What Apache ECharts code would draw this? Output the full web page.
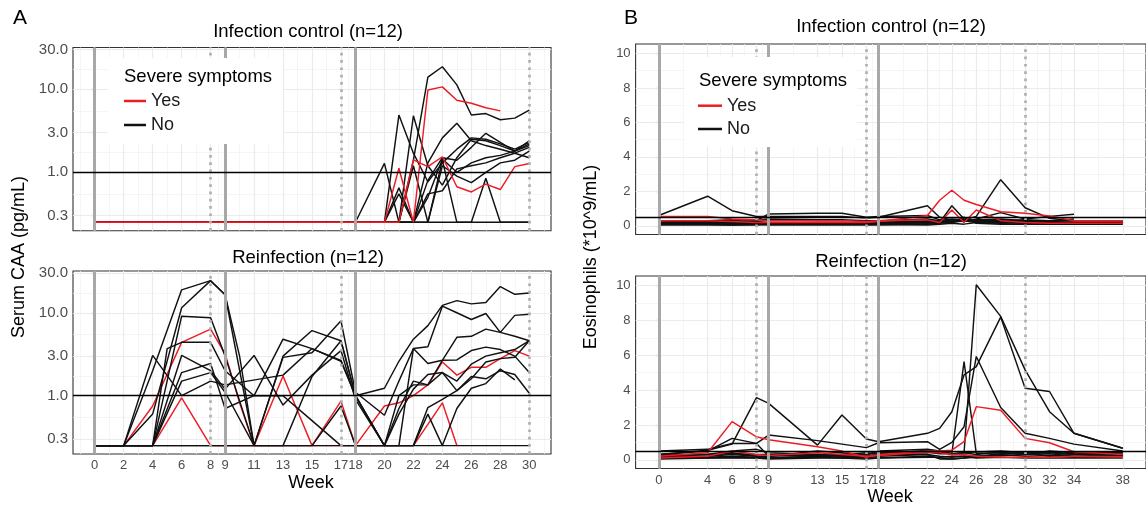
<!DOCTYPE html>
<html><head><meta charset="utf-8">
<script src="https://cdn.jsdelivr.net/npm/echarts@6/dist/echarts.min.js"></script>
<style>html,body{margin:0;padding:0;background:#fff}#c{width:1146px;height:512px}</style>
</head><body><div id="c"></div>
<script>
// ---------------- DATA ----------------
const weeksA = [0,2,4,5,6,8,9,10,11,13,15,17,18,20,21,22,23,24,25,26,27,28,29,30];
const weeksB = [0,4,6,8,9,13,15,17,18,22,23,24,25,26,28,30,32,34,38];
const ticksXA = [0,2,4,6,8,9,11,13,15,17,18,20,22,24,26,28,30];
const ticksXB = [0,4,6,8,9,13,15,17,18,22,24,26,28,30,32,34,38];
const ticksYA = [0.3,1,3,10,30];
const ticksYB = [0,2,4,6,8,10];
const solidWeeks = [0,9,18];
const dottedWeeks = [8,17,30];
const refCAA = 1.0;
const refEos = 0.5;

// Panel A, Infection control: serum CAA (pg/mL)
const caaCtrlNo = [
 [0.25,0.25,0.25,null,0.25,0.25,0.25,null,0.25,0.25,0.25,0.25,0.25, 0.25,0.25,1.4,14,18.7,11.3,4.9,5.1,4.3,4.5,5.6],
 [0.25,0.25,0.25,null,0.25,0.25,0.25,null,0.25,0.25,0.25,0.25,0.25, 1.28,0.25,0.25,0.25,0.25,0.25,0.25,0.85,0.25,0.25,0.25],
 [0.25,0.25,0.25,null,0.25,0.25,0.25,null,0.25,0.25,0.25,0.25,0.25, 0.25,4.9,1.7,0.77,1.3,1.9,2.6,2.5,2.2,1.9,2.3],
 [0.25,0.25,0.25,null,0.25,0.25,0.25,null,0.25,0.25,0.25,0.25,0.25, 0.25,0.25,4.8,1.2,0.7,1.5,2.5,2.4,2.1,1.8,2.1],
 [0.25,0.25,0.25,null,0.25,0.25,0.25,null,0.25,0.25,0.25,0.25,0.25, 0.25,0.25,0.25,1.3,2.6,3.9,2.4,2.1,1.9,1.7,1.5],
 [0.25,0.25,0.25,null,0.25,0.25,0.25,null,0.25,0.25,0.25,0.25,0.25, 0.25,0.55,0.25,0.8,1.5,1.4,2.0,2.95,2.3,1.8,2.4],
 [0.25,0.25,0.25,null,0.25,0.25,0.25,null,0.25,0.25,0.25,0.25,0.25, 0.25,0.25,0.25,0.5,1.45,1.0,1.3,1.5,1.6,1.8,2.2],
 [0.25,0.25,0.25,null,0.25,0.25,0.25,null,0.25,0.25,0.25,0.25,0.25, 0.25,0.65,0.25,0.55,0.6,1.1,1.2,1.3,1.5,1.7,2.0],
 [0.25,0.25,0.25,null,0.25,0.25,0.25,null,0.25,0.25,0.25,0.25,0.25, 0.25,0.25,1.2,0.25,1.4,0.25,0.25,0.25,0.25,0.25,0.25],
 [0.25,0.25,0.25,null,0.25,0.25,0.25,null,0.25,0.25,0.25,0.25,0.25, 0.25,0.25,0.25,0.25,1.2,0.9,0.75,1.0,1.3,1.4,1.8]
];
const caaCtrlYes = [
 [0.25,0.25,0.25,null,0.25,0.25,0.25,null,0.25,0.25,0.25,0.25,0.25, 0.25,1.12,0.25,9.8,10.7,7.4,6.8,6.0,5.5,null,null],
 [0.25,0.25,0.25,null,0.25,0.25,0.25,null,0.25,0.25,0.25,0.25,0.25, 0.25,0.25,1.41,1.17,1.54,0.67,0.58,0.72,0.62,1.17,1.28]
];
// Panel A, Reinfection
const caaReinfNo = [
 [0.25,0.25,2.0,null,18.9,24.4,16.5,null,0.25,0.25,1.7,4.6,1.0, 1.23,2.6,4.8,7.0,12.3,14.0,12.8,13.3,20.7,16.7,17.3],
 [0.25,0.25,0.6,null,11.5,24.4,16.5,3.0,0.25,2.9,3.3,8.0,1.1, 0.58,1.5,3.7,3.9,12.0,10.0,8.3,9.8,5.8,9.3,9.6],
 [0.25,0.25,0.25,null,9.1,8.7,3.0,null,0.25,3.0,6.1,4.6,1.0, 0.25,0.25,3.7,2.44,2.67,5.06,5.2,6.35,5.8,5.2,4.6],
 [0.25,0.25,3.06,null,1.0,1.5,1.35,null,null,1.77,3.7,2.6,1.0, 0.25,1.0,1.35,1.35,1.9,1.15,1.7,1.6,2.0,1.8,1.07],
 [0.25,0.25,0.25,3.7,4.4,4.4,2.0,null,1.0,4.8,3.7,2.67,1.0, 0.25,0.7,1.5,1.35,2.67,2.7,3.5,3.85,3.6,3.0,1.9],
 [0.25,0.25,0.25,null,3.06,2.0,1.2,null,3.06,0.77,1.77,3.5,0.9, 0.25,0.25,0.25,0.72,0.9,1.15,1.6,2.55,2.8,2.9,4.6],
 [0.25,0.25,0.25,null,1.9,2.44,0.7,null,1.0,1.0,0.5,0.25,0.25, 0.25,0.25,0.25,0.6,0.25,0.7,1.23,1.4,2.1,1.55,null],
 [0.25,0.25,0.25,null,0.25,0.25,0.25,null,0.25,0.25,0.25,0.75,0.25, 0.25,0.6,1.2,1.8,1.9,1.5,2.4,3.0,3.3,3.6,4.6],
 [0.25,0.25,0.25,null,0.25,0.25,0.25,null,0.25,0.25,0.25,0.25,0.25, 0.25,0.25,0.25,0.25,0.25,0.25,0.25,0.25,0.25,0.25,0.25],
 [0.25,0.25,0.25,null,1.5,1.9,1.1,null,0.25,null,null,null,null, null,null,null,null,null,null,null,null,null,null,null]
];
const caaReinfYes = [
 [0.25,0.25,0.75,null,4.4,6.35,3.2,0.82,0.25,1.73,0.25,0.86,0.25, 0.75,0.82,1.0,1.35,2.55,1.77,2.2,2.2,2.8,3.5,3.0],
 [0.25,0.25,0.25,null,0.94,0.25,null,null,null,null,null,null,null, null,null,0.25,0.45,0.82,0.25,null,null,null,null,null]
];
// Panel B, Infection control: eosinophils (*10^9/mL)
const eosCtrlNo = [
 [0.6,1.72,0.88,0.54,0.55,0.55,0.55,0.45,0.5,1.17,0.5,0.35,0.3,0.3,0.25,0.2,0.2,0.2,null],
 [0.3,0.2,0.2,0.3,0.69,0.73,0.73,0.5,0.54,0.6,0.35,0.3,0.3,0.35,0.4,0.3,0.3,0.4,null],
 [0.2,0.2,0.15,0.15,0.15,0.15,0.15,0.15,0.2,0.25,0.2,0.3,0.35,0.55,2.68,1.05,0.44,0.3,0.3],
 [0.1,0.15,0.1,0.1,0.1,0.1,0.1,0.1,0.15,0.2,0.2,1.17,0.4,0.3,0.3,0.25,0.2,0.2,null],
 [0.15,0.1,0.1,0.1,0.1,0.1,0.1,0.1,0.1,0.2,0.3,0.3,0.25,0.4,0.77,0.4,0.55,0.67,null],
 [0.05,0.05,0.05,0.1,0.05,0.05,0.05,0.05,0.05,0.1,0.15,0.2,0.5,0.15,0.1,0.1,0.1,0.1,0.1],
 [0.2,0.25,0.3,0.25,0.2,0.2,0.2,0.2,0.2,0.3,0.25,0.2,0.3,0.25,0.3,0.35,0.3,0.3,0.3],
 [0.1,0.1,0.05,0.05,0.1,0.1,0.1,0.1,0.1,0.05,0.1,0.15,0.1,0.2,0.15,0.2,0.15,0.1,0.15],
 [0.3,0.3,0.35,0.35,0.4,0.35,0.35,0.3,0.3,0.4,0.3,0.4,0.35,0.3,0.2,0.3,0.25,0.2,0.2],
 [0.15,0.2,0.2,0.2,0.15,0.2,0.2,0.15,0.2,0.15,0.2,0.25,0.3,0.2,0.2,0.15,0.2,0.15,null]
];
const eosCtrlYes = [
 [0.3,0.3,0.25,0.2,0.2,0.2,0.2,0.2,0.25,0.6,1.49,2.07,1.49,1.24,0.82,0.73,0.57,0.3,0.3],
 [0.55,0.55,0.4,0.35,0.3,0.3,0.3,0.25,0.3,0.35,0.2,0.92,0.2,0.92,0.3,0.2,0.15,0.15,0.15]
];
// Panel B, Reinfection
const eosReinfNo = [
 [0.3,0.55,0.9,3.57,3.24,0.84,2.57,1.19,1.04,1.52,1.8,2.76,4.87,5.35,8.19,4.11,3.92,1.52,0.66],
 [0.2,0.3,0.5,0.6,0.4,0.3,0.3,0.3,0.5,0.6,0.5,0.3,0.4,10.05,8.23,5.16,2.76,1.52,0.66],
 [0.15,0.2,0.3,0.2,0.2,0.3,0.25,0.2,0.3,0.55,0.5,0.36,5.64,0.36,0.4,0.35,0.4,0.3,0.4],
 [0.3,0.5,1.23,0.94,1.42,1.1,0.9,0.7,0.98,1.04,0.6,1.0,1.9,5.93,3.0,1.52,1.23,0.9,0.5],
 [0.5,0.6,0.94,0.94,0.2,0.5,0.4,0.3,0.4,0.45,0.35,0.35,0.4,0.3,0.45,0.3,0.5,0.4,0.4],
 [0.1,0.15,0.2,0.15,0.1,0.2,0.15,0.1,0.2,0.3,0.2,0.15,0.2,0.2,0.25,0.3,0.35,0.2,0.3],
 [0.05,0.1,0.1,0.1,0.05,0.1,0.1,0.05,0.1,0.2,0.1,0.05,0.1,0.15,0.3,0.2,0.25,0.15,0.2],
 [0.2,0.3,0.35,0.3,0.3,0.25,0.2,0.2,0.3,0.3,0.05,0.05,0.1,0.2,0.35,0.4,0.2,0.3,0.25],
 [0.3,0.3,0.4,0.2,0.1,0.2,0.3,0.4,0.35,0.4,0.45,0.35,0.4,0.45,0.5,0.4,0.45,0.35,0.3],
 [0.1,0.1,0.15,0.1,0.1,0.15,0.1,0.1,0.1,0.15,0.15,0.2,0.2,0.1,0.15,0.1,0.1,0.1,0.1]
];
const eosReinfYes = [
 [0.2,0.4,2.19,1.32,1.15,0.75,0.5,0.15,0.3,0.5,0.5,0.55,1.04,3.05,2.84,1.23,0.98,0.46,0.3],
 [0.1,0.2,0.5,0.3,0.25,0.4,0.3,0.2,0.25,0.45,0.4,0.3,0.3,0.2,0.15,0.15,0.15,0.2,0.17]
];

// ---------------- STYLE / LAYOUT ----------------
const FONT = "'Liberation Sans', Arial, sans-serif";
const RED = '#ec1c24', BLK = '#111111';
const lg = v => Math.log10(v);
const xRangeA = [-1.5, 31.5], xRangeB = [-1.9, 39.9];
const yRangeA = [lg(0.198), lg(31.9)], yRangeB = [-0.5, 10.55];

const grids = [
  {left:73, top:47.5, width:478, height:183.2},
  {left:73, top:271, width:478, height:183},
  {left:635.6, top:44, width:515, height:190.5},
  {left:635.6, top:276, width:515, height:192.5}
].map(g => Object.assign(g, {show:true, borderColor:'#333333', borderWidth:1.1, backgroundColor:'#ffffff', containLabel:false}));

function mids(t, lo, hi) {
  const out = [t[0] - (t[1]-t[0])/2];
  for (let i=0;i<t.length-1;i++) out.push((t[i]+t[i+1])/2);
  out.push(t[t.length-1] + (t[t.length-1]-t[t.length-2])/2);
  return out.filter(v => v > lo && v < hi);
}

function xAxis(gi, range, ticks, showLabels) {
  return {gridIndex:gi, type:'value', min:range[0], max:range[1],
    axisLine:{show:false}, splitLine:{show:false},
    axisTick:{show:showLabels, customValues:ticks, length:3.5, lineStyle:{color:'#333', width:1.1}},
    axisLabel:{show:showLabels, customValues:ticks, color:'#4d4d4d', fontSize:13, fontFamily:FONT, margin:5}};
}
function yAxis(gi, range, ticks, fmt, fs) {
  return {gridIndex:gi, type:'value', min:range[0], max:range[1],
    axisLine:{show:false}, splitLine:{show:false},
    axisTick:{show:true, customValues:ticks, length:3.5, lineStyle:{color:'#333', width:1.1}},
    axisLabel:{show:true, customValues:ticks, color:'#4d4d4d', fontSize:fs, fontFamily:FONT, margin:5, formatter:fmt}};
}

function gridSeries(gi, xt, xr, yt, yr) {
  const maj = {color:'#ebebeb', width:1.2, type:'solid'};
  const mnr = {color:'#f2f2f2', width:0.8, type:'solid'};
  const d = [];
  mids(xt, xr[0], xr[1]).forEach(v => d.push({xAxis:v, lineStyle:mnr}));
  mids(yt, yr[0], yr[1]).forEach(v => d.push({yAxis:v, lineStyle:mnr}));
  xt.forEach(v => d.push({xAxis:v, lineStyle:maj}));
  yt.forEach(v => d.push({yAxis:v, lineStyle:maj}));
  return {type:'line', xAxisIndex:gi, yAxisIndex:gi, data:[], z:1, silent:true, animation:false,
    markLine:{z:1, silent:true, symbol:['none','none'], label:{show:false}, animation:false, emphasis:{disabled:true}, data:d}};
}
function refSeries(gi, hval) {
  const d = [];
  solidWeeks.forEach(v => d.push({xAxis:v, lineStyle:{color:'#a8a8a8', width:3, type:'solid'}}));
  dottedWeeks.forEach(v => d.push({xAxis:v, lineStyle:{color:'#b0b0b0', width:2.7, type:[2.7,4.6]}}));
  d.push({yAxis:hval, lineStyle:{color:'#000000', width:1.4, type:'solid'}});
  return {type:'line', xAxisIndex:gi, yAxisIndex:gi, data:[], z:3, silent:true, animation:false,
    markLine:{z:3, silent:true, symbol:['none','none'], label:{show:false}, animation:false, emphasis:{disabled:true}, data:d}};
}
function subjSeries(list, weeks, gi, yes, logT) {
  return list.map(vals => ({
    type:'line', name: yes ? 'Yes' : 'No', xAxisIndex:gi, yAxisIndex:gi,
    data: weeks.map((w,i) => vals[i] == null ? null : [w, logT ? lg(vals[i]) : vals[i]]).filter(p => p),
    symbol:'none', showSymbol:false, silent:true, animation:false, z:2,
    lineStyle:{color: yes ? RED : BLK, width:1.45}, itemStyle:{color: yes ? RED : BLK},
    emphasis:{disabled:true}
  }));
}

const ytA = ticksYA.map(lg);
const fmtA = v => Math.pow(10, v).toFixed(1);

const series = [
  gridSeries(0, ticksXA, xRangeA, ytA, yRangeA),
  gridSeries(1, ticksXA, xRangeA, ytA, yRangeA),
  gridSeries(2, ticksXB, xRangeB, ticksYB, yRangeB),
  gridSeries(3, ticksXB, xRangeB, ticksYB, yRangeB),
  ...subjSeries(caaCtrlNo, weeksA, 0, false, true),
  ...subjSeries(caaCtrlYes, weeksA, 0, true, true),
  ...subjSeries(caaReinfYes, weeksA, 1, true, true),
  ...subjSeries(caaReinfNo, weeksA, 1, false, true),
  ...subjSeries(eosCtrlNo, weeksB, 2, false, false),
  ...subjSeries(eosCtrlYes, weeksB, 2, true, false),
  ...subjSeries(eosReinfNo, weeksB, 3, false, false),
  ...subjSeries(eosReinfYes, weeksB, 3, true, false),
  refSeries(0, lg(refCAA)), refSeries(1, lg(refCAA)),
  refSeries(2, refEos), refSeries(3, refEos)
];

function txt(text, x, y, size, align, rot) {
  return {type:'text', z:60, x:x, y:y, rotation: rot || 0, silent:true,
    style:{text:text, fill:'#000', font: size + 'px ' + FONT, align: align || 'center', verticalAlign:'middle'}};
}

const legendCommon = {orient:'vertical', icon:'rect', itemWidth:22, itemHeight:2.5, padding:0, z:70,
  selectedMode:false, data:['Yes','No'],
  textStyle:{fontSize:18, color:'#1a1a1a', fontFamily:FONT, lineHeight:18}};

const option = {
  animation:false,
  backgroundColor:'#ffffff',
  grid: grids,
  xAxis: [xAxis(0, xRangeA, ticksXA, false), xAxis(1, xRangeA, ticksXA, true),
          xAxis(2, xRangeB, ticksXB, false), xAxis(3, xRangeB, ticksXB, true)],
  yAxis: [yAxis(0, yRangeA, ytA, fmtA, 15), yAxis(1, yRangeA, ytA, fmtA, 15),
          yAxis(2, yRangeB, ticksYB, null, 13), yAxis(3, yRangeB, ticksYB, null, 13)],
  legend: [
    Object.assign({}, legendCommon, {left:124, top:92, itemGap:6}),
    Object.assign({}, legendCommon, {left:698, top:96.7, itemGap:5.3, itemWidth:24})
  ],
  graphic: {elements: [
    {type:'rect', z:50, silent:true, shape:{x:108, y:58, width:175, height:86}, style:{fill:'#ffffff'}},
    {type:'rect', z:50, silent:true, shape:{x:684, y:57, width:173, height:90}, style:{fill:'#ffffff'}},
    txt('Severe symptoms', 124, 77, 18.5, 'left'),
    txt('Severe symptoms', 699, 81, 18.5, 'left'),
    txt('A', 13, 18, 21, 'left'),
    txt('B', 624, 18, 21, 'left'),
    txt('Infection control (n=12)', 308, 32, 18.5),
    txt('Reinfection (n=12)', 308, 257.5, 18.5),
    txt('Infection control (n=12)', 891, 26.5, 18.5),
    txt('Reinfection (n=12)', 891, 262, 18.5),
    txt('Week', 311, 483, 18),
    txt('Week', 890, 497, 18),
    txt('Serum CAA (pg/mL)', 19, 257, 18, 'center', Math.PI/2),
    txt('Eosinophils (*10^9/mL)', 591, 257, 18, 'center', Math.PI/2)
  ]},
  series: series
};

const chart = echarts.init(document.getElementById('c'), null, {renderer:'canvas', width:1146, height:512});
chart.setOption(option);
</script>
</body></html>
